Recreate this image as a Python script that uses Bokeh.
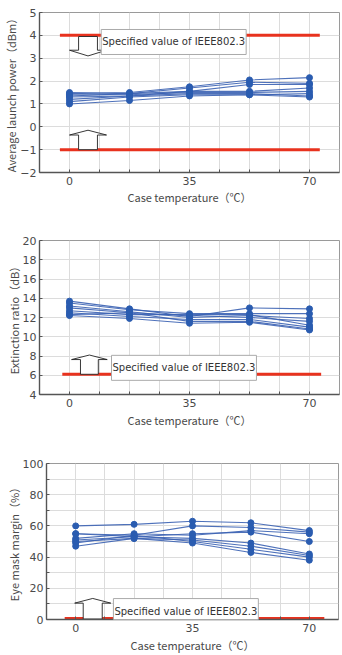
from bokeh.plotting import figure
from bokeh.models import FixedTicker, Label, Range1d
from bokeh.embed import file_html
from bokeh.resources import INLINE

# Case temperatures at which each module was measured (deg C)
temps = [0, 17.5, 35, 52.5, 70]

# Average launch power (dBm), one list per module
power_series = [
    [1.45, 1.50, 1.75, 2.05, 2.15],
    [1.35, 1.45, 1.70, 1.95, 1.90],
    [1.20, 1.35, 1.55, 1.85, 1.85],
    [1.50, 1.45, 1.55, 1.55, 1.70],
    [1.40, 1.40, 1.50, 1.50, 1.55],
    [1.30, 1.35, 1.45, 1.45, 1.35],
    [1.10, 1.30, 1.40, 1.40, 1.45],
    [1.00, 1.15, 1.35, 1.40, 1.30],
]
power_limits = [4.0, -1.0]

# Extinction ratio (dB)
er_series = [
    [13.7, 12.9, 12.1, 13.0, 12.9],
    [13.5, 12.8, 12.4, 12.4, 12.4],
    [13.2, 12.6, 12.0, 12.2, 11.9],
    [13.0, 12.5, 12.2, 12.0, 11.6],
    [12.7, 12.3, 12.3, 12.3, 11.2],
    [12.5, 12.1, 11.8, 11.8, 11.0],
    [12.3, 12.5, 11.6, 11.6, 10.8],
    [12.2, 11.9, 11.4, 11.5, 10.7],
]
er_limits = [6.1]

# Eye mask margin (%)
mask_series = [
    [60, 61, 63, 62, 57],
    [55, 54, 60, 59, 56],
    [52, 55, 54, 57, 55],
    [51, 53, 55, 56, 50],
    [55, 53, 52, 49, 42],
    [50, 52, 51, 47, 41],
    [49, 54, 50, 45, 40],
    [47, 52, 49, 43, 38],
]
mask_limits = [0.3]

x_label_ticks = [0, 35, 70]
x_grid_ticks = [8.75, 17.5, 26.25, 43.75, 52.5, 61.25]

x_title = "Case temperature（℃）"
spec_text = "Specified value of IEEE802.3"

TEXT = "#4a4a4a"
BLUE_LINE = "#3b62b2"
BLUE_DOT = "#2a5cb0"
RED = "#e8321e"
GRID = "#dcdcdc"
NUM_FONT = "DejaVu Sans"
TITLE_FONT = "Noto Sans CJK JP"


def block_arrow(xc, y_base, y_tip, shaft_half, head_half, head_len):
    d = 1 if y_tip > y_base else -1
    y_neck = y_tip - d * head_len
    xs = [xc - shaft_half, xc - shaft_half, xc - head_half, xc,
          xc + head_half, xc + shaft_half, xc + shaft_half]
    ys = [y_base, y_neck, y_neck, y_tip, y_neck, y_neck, y_base]
    return xs, ys


def make_chart(series, limits, y_lo, y_hi, y_ticks, y_minor, y_title,
               height, borders, x_title_gap, limit_span, limit_width, arrows, box_xy):
    top, bottom, left, right = borders
    p = figure(width=342, height=height, output_backend="svg",
               toolbar_location=None, x_range=Range1d(-8.75, 78.75),
               y_range=Range1d(y_lo, y_hi),
               min_border_top=top, min_border_bottom=bottom,
               min_border_left=left, min_border_right=right)
    p.background_fill_color = "white"
    p.border_fill_color = "white"
    p.outline_line_color = "#9a9a9a"
    p.outline_line_width = 1

    p.xaxis.ticker = FixedTicker(ticks=x_label_ticks, minor_ticks=x_grid_ticks)
    p.yaxis.ticker = FixedTicker(ticks=y_ticks, minor_ticks=y_minor)
    p.xgrid.grid_line_color = GRID
    p.xgrid.minor_grid_line_color = GRID
    p.ygrid.grid_line_color = GRID
    p.ygrid.minor_grid_line_color = GRID if y_minor else None

    for ax in (p.xaxis[0], p.yaxis[0]):
        ax.axis_line_color = "#555555"
        ax.axis_line_width = 1.4
        ax.major_tick_in = 3
        ax.major_tick_out = 0
        ax.minor_tick_in = 3
        ax.minor_tick_out = 0
        ax.major_tick_line_color = "#555555"
        ax.minor_tick_line_color = "#555555"
        ax.major_label_text_font = NUM_FONT
        ax.major_label_text_font_size = "11px"
        ax.major_label_text_color = TEXT
        ax.axis_label_text_font = TITLE_FONT
        ax.axis_label_text_font_size = "11px"
        ax.axis_label_text_font_style = "normal"
        ax.axis_label_text_color = TEXT
    p.xaxis.axis_label = x_title
    p.yaxis.axis_label = y_title
    p.xaxis.major_label_standoff = 4
    p.xaxis.axis_label_standoff = x_title_gap
    p.yaxis.major_label_standoff = 3
    p.yaxis.axis_label_standoff = -2

    # Limit lines from the standard
    for lim in limits:
        p.line(limit_span, [lim, lim], line_color=RED, line_width=limit_width)

    # Hollow block arrows pointing into the allowed region
    for a in arrows:
        xs, ys = block_arrow(*a)
        p.patch(xs, ys, fill_color="white", line_color="#222222", line_width=0.9)

    p.add_layout(Label(x=box_xy[0], y=box_xy[1], text=spec_text,
                       anchor="center_left", text_baseline="middle",
                       text_font=NUM_FONT, text_font_size="10px",
                       text_color="#333333", padding=(1, 7),
                       background_fill_color="white",
                       border_line_color="#aaaaaa", border_line_width=1))

    # Measured modules
    for ys in series:
        p.line(temps, ys, line_color=BLUE_LINE, line_width=1.1, line_alpha=0.9)
        p.scatter(temps, ys, size=6, fill_color=BLUE_DOT, line_color=BLUE_DOT)
    return p


p1 = make_chart(power_series, power_limits, -2, 5, [-2, -1, 0, 1, 2, 3, 4, 5], [],
                "Average launch power（dBm）", 215, (12, 43, 39, 3), 1,
                [-2.8, 73.0], 3,
                [(5.4, 3.95, 3.1, 2.75, 5.4, 0.25),
                 (5.4, -1.0, -0.15, 2.75, 5.4, 0.21)],
                (9.25, 3.71))

p2 = make_chart(er_series, er_limits, 4, 20, [4, 6, 8, 10, 12, 14, 16, 18, 20], [],
                "Extinction ratio（dB）", 215, (25, 31, 39, 3), 2,
                [-2.1, 73.4], 3,
                [(5.8, 6.1, 8.1, 2.6, 5.2, 0.47)],
                (12.25, 6.77))

p3 = make_chart(mask_series, mask_limits, 0, 100, [0, 20, 40, 60, 80, 100],
                [10, 30, 50, 70, 90],
                "Eye mask margin（%）", 225, (33, 34, 46, 4), 2,
                [-3.3, 74.5], 4,
                [(5.1, 0.3, 13.5, 2.85, 5.4, 3.0)],
                (11.3, 5.4))

# Three independent roots, stacked down the page
open("out.html", "w").write(file_html([p1, p2, p3], INLINE))
